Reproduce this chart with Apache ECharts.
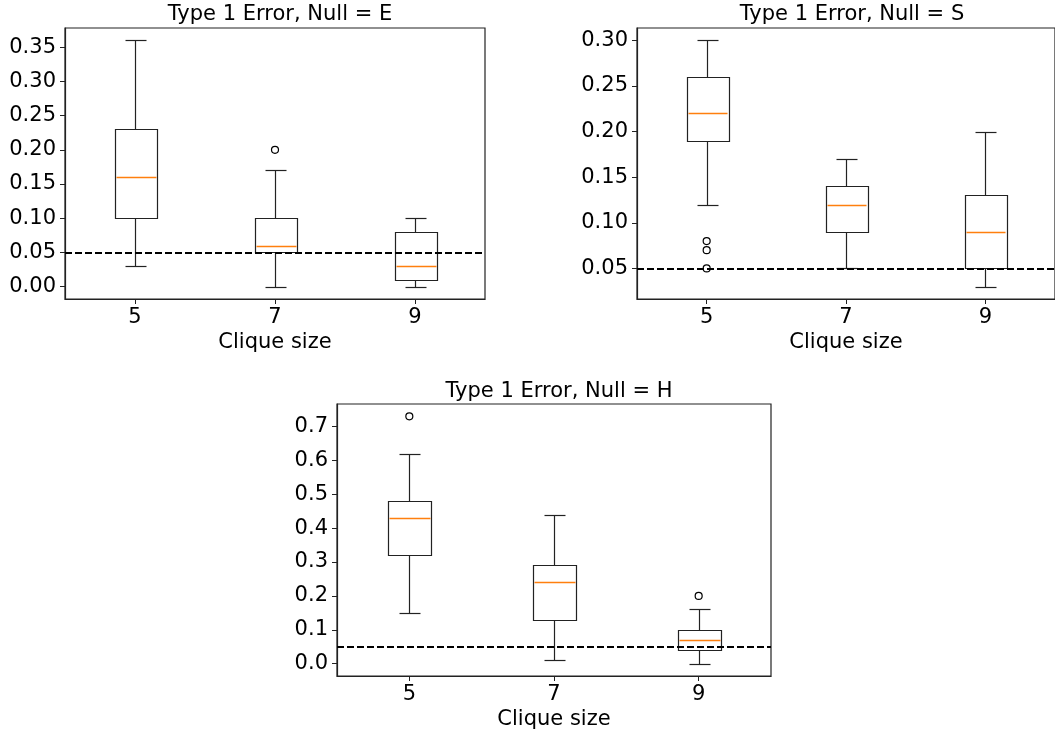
<!DOCTYPE html>
<html>
<head>
<meta charset="utf-8">
<script src="https://cdn.jsdelivr.net/npm/echarts@6/dist/echarts.min.js"></script>
<style>
html,body{margin:0;padding:0;background:#fff;}
#chart{width:1055px;height:732px;}
</style>
</head>
<body>
<div id="chart"></div>
<script>
// ---- Data ----
const categories = ['5', '7', '9'];
// [low whisker, Q1, median, Q3, high whisker]
const boxesE = [[0.03, 0.10, 0.16, 0.23, 0.36], [0.00, 0.05, 0.06, 0.10, 0.17], [0.00, 0.01, 0.03, 0.08, 0.10]];
const outliersE = [[1, 0.20]];
const boxesS = [[0.12, 0.19, 0.22, 0.26, 0.30], [0.05, 0.09, 0.12, 0.14, 0.17], [0.03, 0.05, 0.09, 0.13, 0.20]];
const outliersS = [[0, 0.08], [0, 0.07], [0, 0.05]];
const boxesH = [[0.15, 0.32, 0.43, 0.48, 0.62], [0.01, 0.13, 0.24, 0.29, 0.44], [0.00, 0.04, 0.07, 0.10, 0.16]];
const outliersH = [[0, 0.73], [2, 0.20]];
const ticksE = [0, 0.05, 0.10, 0.15, 0.20, 0.25, 0.30, 0.35];
const ticksS = [0.05, 0.10, 0.15, 0.20, 0.25, 0.30];
const ticksH = [0, 0.1, 0.2, 0.3, 0.4, 0.5, 0.6, 0.7];
const titles = ['Type 1 Error, Null = E', 'Type 1 Error, Null = S', 'Type 1 Error, Null = H'];
const xName = 'Clique size';
const nullLevel = 0.05;

const FONT = 'DejaVu Sans';
const FS = 21;
const chart = echarts.init(document.getElementById('chart'), null, {renderer: 'canvas'});

const grids = [
  {left: 65, top: 28, width: 420, height: 271},
  {left: 637, top: 28, width: 420, height: 271},
  {left: 337, top: 404, width: 434, height: 272}
];
const yRanges = [[-0.018, 0.378], [0.0165, 0.3135], [-0.0365, 0.7665]];
const yTicks = [ticksE, ticksS, ticksH];
const yDigits = [2, 2, 1];
const boxSets = [boxesE, boxesS, boxesH];
const outSets = [outliersE, outliersS, outliersH];
const titlePos = [[275, -1], [847, -1], [554, 376]];

function renderBox(params, api) {
  const x = api.value(0);
  const lo = api.coord([x, api.value(1)]);
  const q1 = api.coord([x, api.value(2)]);
  const md = api.coord([x, api.value(3)]);
  const q3 = api.coord([x, api.value(4)]);
  const hi = api.coord([x, api.value(5)]);
  const bw = api.size([1, 0])[0] * 0.3;
  const cx = Math.round(lo[0]) + 0.5;
  const r = v => Math.round(v) + 0.5;
  const stroke = {stroke: '#222', lineWidth: 1.2, fill: null};
  return {
    type: 'group',
    children: [
      {type: 'rect', shape: {x: r(cx - bw / 2), y: r(q3[1]), width: Math.round(bw), height: Math.round(q1[1]) - Math.round(q3[1])}, style: {stroke: '#222', lineWidth: 1.2, fill: 'rgba(0,0,0,0)'}},
      {type: 'line', shape: {x1: cx, y1: r(q1[1]), x2: cx, y2: r(lo[1])}, style: stroke},
      {type: 'line', shape: {x1: cx, y1: r(q3[1]), x2: cx, y2: r(hi[1])}, style: stroke},
      {type: 'line', shape: {x1: r(cx - bw / 4), y1: r(lo[1]), x2: r(cx + bw / 4), y2: r(lo[1])}, style: stroke},
      {type: 'line', shape: {x1: r(cx - bw / 4), y1: r(hi[1]), x2: r(cx + bw / 4), y2: r(hi[1])}, style: stroke},
      {type: 'line', shape: {x1: r(cx - bw / 2) + 1, y1: r(md[1]), x2: r(cx + bw / 2) - 1, y2: r(md[1])}, style: {stroke: '#ff7f0e', lineWidth: 1.3}}
    ]
  };
}

const option = {
  animation: false,
  backgroundColor: '#fff',
  title: titles.map((t, i) => ({
    text: t, left: titlePos[i][0], top: titlePos[i][1], textAlign: 'center',
    textStyle: {fontFamily: FONT, fontSize: FS, fontWeight: 'normal', color: '#000'}
  })),
  grid: grids.map(g => Object.assign({show: true, borderColor: '#222', borderWidth: 1.2, backgroundColor: 'transparent', containLabel: false}, g)),
  xAxis: grids.map((g, i) => ({
    type: 'category', gridIndex: i, data: categories, boundaryGap: true,
    name: xName, nameLocation: 'middle', nameGap: 33,
    nameTextStyle: {fontFamily: FONT, fontSize: FS, color: '#000'},
    axisLine: {show: true, onZero: false, lineStyle: {color: '#222', width: 1.2}},
    axisTick: {show: true, alignWithLabel: true, length: 5, lineStyle: {color: '#222'}},
    axisLabel: {fontFamily: FONT, fontSize: FS, color: '#000', margin: 8},
    splitLine: {show: false}
  })),
  yAxis: grids.map((g, i) => ({
    type: 'value', gridIndex: i, min: yRanges[i][0], max: yRanges[i][1],
    axisLine: {show: true, onZero: false, lineStyle: {color: '#222', width: 1.2}},
    axisTick: {show: true, length: 5, lineStyle: {color: '#222'}, customValues: yTicks[i]},
    axisLabel: {fontFamily: FONT, fontSize: FS, color: '#000', margin: 9, customValues: yTicks[i],
      formatter: v => Number(v).toFixed(yDigits[i])},
    splitLine: {show: false}
  })),
  series: []
};

for (let i = 0; i < 3; i++) {
  option.series.push({
    type: 'custom', xAxisIndex: i, yAxisIndex: i,
    renderItem: renderBox,
    encode: {x: 0, y: [1, 2, 3, 4, 5]},
    data: boxSets[i].map((b, k) => [k].concat(b)),
    markLine: {
      silent: true, symbol: ['none', 'none'], label: {show: false},
      lineStyle: {color: '#000', width: 2, type: [7, 3]},
      data: [{yAxis: nullLevel}],
      z: 10
    },
    z: 2
  });
  option.series.push({
    type: 'scatter', xAxisIndex: i, yAxisIndex: i,
    symbol: 'circle', symbolSize: 7,
    itemStyle: {color: 'rgba(255,255,255,0)', borderColor: '#000', borderWidth: 1.2, opacity: 1},
    data: outSets[i],
    z: 3
  });
}

chart.setOption(option);
</script>
</body>
</html>
